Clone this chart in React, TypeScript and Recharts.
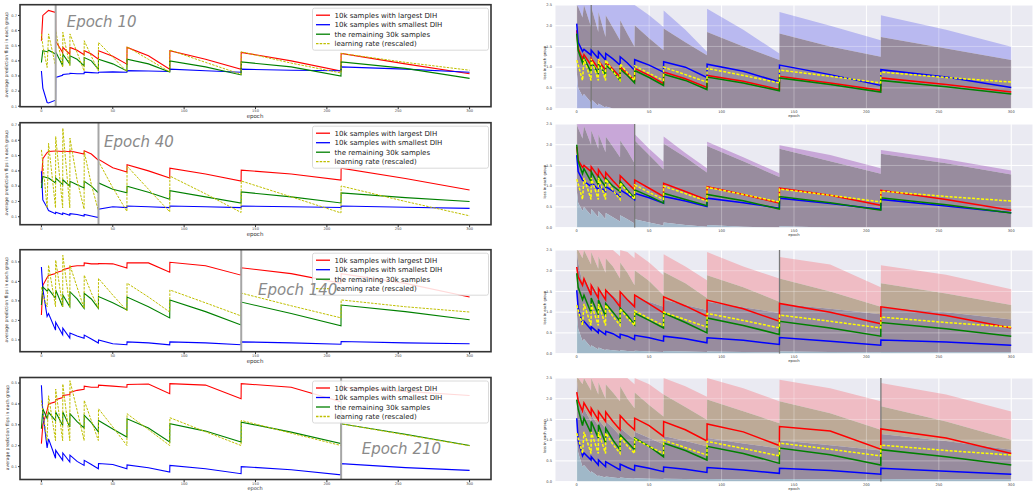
import React from 'react';
import { ComposedChart, Line, Area, XAxis, YAxis, CartesianGrid, ReferenceLine } from 'recharts';

const EPOCHS = [0, 1, 4, 5, 9.9, 10, 14.9, 15, 19.9, 20, 25, 29.9, 30, 35, 39.9, 40, 50, 59.9, 60, 75, 89.9, 90, 115, 139.9, 140, 175, 209.9, 210, 255, 300];
const EPOCH_TICKS = [0, 50, 100, 150, 200, 250, 300];
const FLIP_TICKS_TALL = [0.1, 0.2, 0.3, 0.4, 0.5, 0.6, 0.7];
const FLIP_TICKS_SHORT = [0.1, 0.2, 0.3, 0.4, 0.5];
const LOSS_TICKS = [0, 0.5, 1, 1.5, 2, 2.5];
const MARK_EPOCHS = [10, 40, 140, 210];
const SERIES_NAMES = ['10k samples with largest DIH', '10k samples with smallest DIH', 'the remaining 30k samples', 'learning rate (rescaled)'];

// ---- left column: average prediction flips ----
const L1_LARGEST = [0.533, 0.70, 0.725, 0.733, 0.72, 0.53, 0.455, 0.489, 0.444, 0.489, 0.47, 0.44, 0.467, 0.445, 0.411, 0.467, 0.43, 0.378, 0.489, 0.433, 0.344, 0.467, 0.41, 0.344, 0.456, 0.40, 0.333, 0.449, 0.38, 0.315];
const L1_SMALLEST = [0.333, 0.22, 0.125, 0.122, 0.14, 0.29, 0.305, 0.31, 0.315, 0.318, 0.315, 0.315, 0.325, 0.322, 0.32, 0.325, 0.327, 0.325, 0.335, 0.333, 0.33, 0.345, 0.335, 0.325, 0.345, 0.338, 0.335, 0.36, 0.345, 0.325];
const L1_REST = [0.389, 0.467, 0.46, 0.47, 0.445, 0.46, 0.367, 0.444, 0.378, 0.433, 0.41, 0.367, 0.422, 0.40, 0.344, 0.411, 0.38, 0.333, 0.411, 0.38, 0.327, 0.40, 0.36, 0.307, 0.393, 0.36, 0.30, 0.393, 0.35, 0.284];
const L1_LR = [0.578, 0.50, 0.356, 0.578, 0.367, 0.60, 0.356, 0.589, 0.367, 0.578, 0.455, 0.333, 0.533, 0.43, 0.333, 0.522, 0.425, 0.329, 0.493, 0.41, 0.327, 0.471, 0.39, 0.311, 0.46, 0.385, 0.32, 0.449, 0.39, 0.338];

const L2_LARGEST = [0.321, 0.48, 0.52, 0.527, 0.53, 0.53, 0.527, 0.53, 0.525, 0.53, 0.52, 0.51, 0.531, 0.51, 0.47, 0.475, 0.42, 0.392, 0.44, 0.40, 0.353, 0.418, 0.38, 0.334, 0.405, 0.38, 0.34, 0.418, 0.35, 0.275];
const L2_SMALLEST = [0.397, 0.21, 0.16, 0.14, 0.12, 0.13, 0.115, 0.125, 0.11, 0.12, 0.115, 0.105, 0.115, 0.105, 0.095, 0.15, 0.165, 0.16, 0.17, 0.165, 0.16, 0.17, 0.165, 0.16, 0.17, 0.165, 0.16, 0.17, 0.162, 0.155];
const L2_REST = [0.288, 0.364, 0.355, 0.353, 0.321, 0.353, 0.31, 0.342, 0.30, 0.332, 0.31, 0.288, 0.332, 0.30, 0.256, 0.321, 0.28, 0.256, 0.30, 0.26, 0.215, 0.27, 0.23, 0.19, 0.262, 0.23, 0.19, 0.256, 0.225, 0.20];
const L2_LR = [0.537, 0.45, 0.158, 0.58, 0.158, 0.625, 0.158, 0.679, 0.158, 0.614, 0.34, 0.15, 0.527, 0.31, 0.14, 0.462, 0.29, 0.135, 0.431, 0.28, 0.132, 0.366, 0.25, 0.128, 0.334, 0.23, 0.125, 0.301, 0.20, 0.106];

const L3_LARGEST = [0.228, 0.38, 0.42, 0.43, 0.44, 0.445, 0.455, 0.46, 0.47, 0.475, 0.48, 0.48, 0.495, 0.49, 0.49, 0.492, 0.49, 0.468, 0.495, 0.495, 0.447, 0.498, 0.48, 0.432, 0.47, 0.44, 0.39, 0.44, 0.39, 0.32];
const L3_SMALLEST = [0.474, 0.36, 0.22, 0.235, 0.15, 0.19, 0.126, 0.16, 0.109, 0.135, 0.12, 0.109, 0.125, 0.105, 0.084, 0.10, 0.08, 0.075, 0.09, 0.085, 0.075, 0.09, 0.085, 0.075, 0.09, 0.085, 0.078, 0.092, 0.085, 0.08];
const L3_REST = [0.279, 0.372, 0.35, 0.36, 0.313, 0.356, 0.27, 0.33, 0.27, 0.347, 0.31, 0.262, 0.339, 0.31, 0.262, 0.322, 0.29, 0.254, 0.32, 0.27, 0.213, 0.305, 0.245, 0.177, 0.294, 0.235, 0.172, 0.279, 0.245, 0.203];
const L3_LR = [0.37, 0.33, 0.27, 0.483, 0.27, 0.509, 0.27, 0.534, 0.27, 0.483, 0.37, 0.262, 0.432, 0.34, 0.262, 0.415, 0.33, 0.25, 0.391, 0.32, 0.243, 0.356, 0.29, 0.223, 0.34, 0.275, 0.213, 0.305, 0.27, 0.243];

const L4_LARGEST = [0.21, 0.30, 0.37, 0.40, 0.41, 0.42, 0.43, 0.44, 0.445, 0.455, 0.465, 0.47, 0.485, 0.48, 0.48, 0.49, 0.485, 0.48, 0.493, 0.495, 0.449, 0.497, 0.49, 0.425, 0.497, 0.48, 0.41, 0.48, 0.46, 0.44];
const L4_SMALLEST = [0.489, 0.36, 0.19, 0.233, 0.14, 0.178, 0.13, 0.165, 0.122, 0.155, 0.125, 0.106, 0.13, 0.11, 0.09, 0.115, 0.11, 0.09, 0.108, 0.095, 0.074, 0.106, 0.09, 0.066, 0.10, 0.085, 0.061, 0.114, 0.095, 0.082];
const L4_REST = [0.281, 0.377, 0.33, 0.36, 0.32, 0.361, 0.297, 0.361, 0.289, 0.353, 0.315, 0.285, 0.345, 0.31, 0.266, 0.321, 0.28, 0.242, 0.329, 0.285, 0.218, 0.305, 0.27, 0.218, 0.313, 0.265, 0.21, 0.305, 0.255, 0.201];
const L4_LR = [0.417, 0.36, 0.224, 0.439, 0.224, 0.471, 0.224, 0.495, 0.224, 0.511, 0.37, 0.225, 0.417, 0.32, 0.225, 0.377, 0.29, 0.201, 0.353, 0.277, 0.201, 0.334, 0.267, 0.201, 0.321, 0.26, 0.201, 0.305, 0.252, 0.20];

// ---- right column: loss per group, with spread bands ----
const RIGHT_LR = [1.17, 1.05, 0.68, 1.2, 0.68, 1.2, 0.68, 1.2, 0.68, 1.17, 0.9, 0.68, 1.08, 0.86, 0.68, 1.03, 0.85, 0.68, 1.0, 0.82, 0.64, 0.97, 0.8, 0.62, 0.93, 0.78, 0.62, 0.88, 0.75, 0.64];

const R1_LARGEST = [1.89, 1.45, 1.2, 1.3, 1.05, 1.21, 0.97, 1.15, 0.93, 1.13, 0.95, 0.76, 1.0, 0.85, 0.68, 0.97, 0.8, 0.60, 0.88, 0.72, 0.51, 0.80, 0.66, 0.46, 0.78, 0.62, 0.44, 0.74, 0.58, 0.40];
const R1_SMALLEST = [2.05, 1.6, 1.38, 1.43, 1.29, 1.41, 1.21, 1.37, 1.17, 1.33, 1.2, 1.05, 1.25, 1.1, 0.925, 1.18, 1.05, 0.88, 1.13, 1.0, 0.75, 1.07, 0.9, 0.64, 1.05, 0.82, 0.56, 0.94, 0.76, 0.51];
const R1_REST = [1.81, 1.4, 1.1, 1.22, 0.88, 1.13, 0.85, 1.08, 0.82, 1.05, 0.9, 0.68, 0.95, 0.8, 0.62, 0.92, 0.75, 0.56, 0.83, 0.68, 0.46, 0.76, 0.62, 0.43, 0.74, 0.58, 0.40, 0.68, 0.53, 0.35];
const R1_TOP = [2.5, 2.5, 2.5, 2.5, 2.5, 2.5, 2.5, 2.5, 2.5, 2.5, 2.5, 2.5, 2.5, 2.5, 2.5, 2.5, 2.25, 1.97, 2.37, 1.9, 1.37, 2.41, 1.9, 1.33, 2.33, 2.0, 1.65, 2.25, 1.9, 1.49];
const R1_DARK = [2.5, 2.45, 2.2, 2.5, 1.97, 2.45, 1.85, 2.33, 1.73, 2.25, 1.95, 1.65, 2.13, 1.8, 1.49, 2.01, 1.7, 1.41, 1.93, 1.6, 1.29, 1.85, 1.5, 1.17, 1.81, 1.5, 1.25, 1.73, 1.45, 1.17];
const R1_LOW = [0.9, 0.5, 0.3, 0.35, 0.15, 0.22, 0.06, 0.12, 0.02, 0.05, 0, 0, 0, 0, 0, 0, 0, 0, 0, 0, 0, 0, 0, 0, 0, 0, 0, 0, 0, 0];

const R2_LARGEST = [1.95, 1.62, 1.45, 1.5, 1.35, 1.47, 1.23, 1.4, 1.15, 1.33, 1.13, 0.95, 1.25, 1.08, 0.91, 1.15, 0.95, 0.75, 1.07, 0.87, 0.67, 0.99, 0.8, 0.59, 0.95, 0.78, 0.54, 0.9, 0.68, 0.42];
const R2_SMALLEST = [1.75, 1.35, 1.15, 1.12, 0.99, 1.11, 0.91, 1.03, 0.87, 0.99, 0.88, 0.75, 0.91, 0.8, 0.67, 0.83, 0.72, 0.59, 0.75, 0.64, 0.51, 0.71, 0.6, 0.47, 0.71, 0.58, 0.44, 0.68, 0.52, 0.36];
const R2_REST = [2.0, 1.6, 1.3, 1.42, 1.11, 1.35, 1.03, 1.23, 0.98, 1.19, 1.0, 0.87, 1.11, 0.9, 0.71, 0.91, 0.76, 0.59, 0.83, 0.68, 0.53, 0.8, 0.65, 0.45, 0.75, 0.6, 0.42, 0.72, 0.55, 0.35];
const R2_TOP = [2.5, 2.5, 2.5, 2.5, 2.5, 2.5, 2.5, 2.5, 2.5, 2.5, 2.5, 2.5, 2.5, 2.5, 2.5, 2.25, 1.9, 1.59, 2.2, 1.8, 1.43, 2.07, 1.7, 1.31, 1.99, 1.75, 1.43, 1.87, 1.65, 1.38];
const R2_DARK = [2.5, 2.4, 2.15, 2.45, 2.0, 2.35, 1.9, 2.25, 1.82, 2.2, 1.95, 1.7, 2.1, 1.85, 1.55, 2.1, 1.75, 1.4, 2.03, 1.7, 1.33, 1.97, 1.6, 1.22, 1.9, 1.6, 1.3, 1.78, 1.55, 1.28];
const R2_LOW = [0.9, 0.6, 0.4, 0.5, 0.3, 0.45, 0.25, 0.4, 0.2, 0.35, 0.25, 0.15, 0.3, 0.2, 0.1, 0.2, 0.12, 0.05, 0.12, 0.06, 0.02, 0.06, 0.02, 0, 0.03, 0, 0, 0, 0, 0];

const R3_LARGEST = [2.09, 1.85, 1.65, 1.81, 1.41, 1.65, 1.34, 1.57, 1.3, 1.53, 1.35, 1.13, 1.49, 1.3, 1.13, 1.41, 1.2, 0.98, 1.37, 1.15, 0.9, 1.29, 1.08, 0.78, 1.21, 1.0, 0.72, 1.13, 0.92, 0.62];
const R3_SMALLEST = [1.53, 1.1, 0.72, 0.78, 0.58, 0.65, 0.5, 0.58, 0.46, 0.54, 0.48, 0.38, 0.47, 0.42, 0.34, 0.44, 0.38, 0.3, 0.42, 0.36, 0.26, 0.38, 0.32, 0.22, 0.39, 0.3, 0.2, 0.33, 0.28, 0.2];
const R3_REST = [1.94, 1.6, 1.3, 1.41, 0.98, 1.34, 0.94, 1.29, 0.9, 1.21, 1.0, 0.78, 1.1, 0.92, 0.7, 0.98, 0.8, 0.62, 0.98, 0.75, 0.5, 0.86, 0.68, 0.46, 0.78, 0.62, 0.42, 0.75, 0.6, 0.42];
const R3_TOP = [2.5, 2.5, 2.5, 2.5, 2.5, 2.5, 2.5, 2.5, 2.5, 2.5, 2.5, 2.35, 2.5, 2.45, 2.3, 2.45, 2.2, 1.89, 2.4, 2.1, 1.77, 2.45, 2.1, 1.81, 2.33, 2.15, 1.6, 2.13, 1.9, 1.55];
const R3_MID = [2.5, 2.5, 2.3, 2.5, 2.15, 2.45, 2.05, 2.35, 1.95, 2.3, 2.1, 1.81, 2.2, 1.95, 1.65, 2.01, 1.75, 1.41, 1.97, 1.7, 1.34, 1.89, 1.6, 1.25, 1.81, 1.5, 1.13, 1.7, 1.45, 1.17];
const R3_DARK = [2.5, 2.2, 1.7, 1.85, 1.5, 1.7, 1.42, 1.6, 1.35, 1.55, 1.4, 1.25, 1.45, 1.33, 1.2, 1.38, 1.25, 1.13, 1.3, 1.17, 1.05, 1.25, 1.12, 0.98, 1.2, 1.08, 0.95, 1.12, 1.0, 0.82];
const R3_LOW = [1.0, 0.6, 0.3, 0.35, 0.15, 0.2, 0.1, 0.15, 0.08, 0.1, 0.08, 0.06, 0.08, 0.06, 0.05, 0.07, 0.05, 0.04, 0.06, 0.05, 0.04, 0.05, 0.04, 0.03, 0.05, 0.04, 0.03, 0.04, 0.03, 0.03];

const R4_LARGEST = [2.16, 1.95, 1.7, 1.9, 1.61, 1.77, 1.49, 1.69, 1.45, 1.68, 1.45, 1.25, 1.59, 1.4, 1.25, 1.53, 1.35, 1.09, 1.45, 1.25, 0.98, 1.39, 1.2, 0.87, 1.33, 1.22, 0.78, 1.27, 1.05, 0.68];
const R4_SMALLEST = [1.53, 1.0, 0.62, 0.69, 0.52, 0.6, 0.4, 0.52, 0.36, 0.48, 0.38, 0.28, 0.42, 0.34, 0.27, 0.39, 0.32, 0.24, 0.35, 0.3, 0.22, 0.34, 0.28, 0.2, 0.32, 0.27, 0.18, 0.32, 0.25, 0.18];
const R4_REST = [1.98, 1.75, 1.35, 1.53, 1.17, 1.45, 1.05, 1.37, 0.93, 1.29, 1.0, 0.77, 1.13, 0.95, 0.77, 1.05, 0.85, 0.6, 0.93, 0.75, 0.52, 0.85, 0.68, 0.44, 0.81, 0.65, 0.4, 0.77, 0.6, 0.4];
const R4_TOP = [2.5, 2.5, 2.5, 2.5, 2.5, 2.5, 2.5, 2.5, 2.5, 2.5, 2.5, 2.5, 2.5, 2.5, 2.35, 2.5, 2.35, 2.1, 2.5, 2.3, 2.05, 2.5, 2.25, 1.94, 2.46, 2.25, 1.94, 2.38, 2.1, 1.69];
const R4_MID = [2.5, 2.5, 2.35, 2.5, 2.2, 2.5, 2.1, 2.4, 2.0, 2.35, 2.15, 1.94, 2.3, 2.0, 1.77, 2.15, 1.85, 1.57, 2.1, 1.8, 1.49, 1.98, 1.7, 1.41, 1.94, 1.65, 1.25, 1.82, 1.45, 1.01];
const R4_DARK = [2.5, 2.1, 1.6, 1.75, 1.45, 1.6, 1.35, 1.5, 1.28, 1.45, 1.3, 1.1, 1.3, 1.15, 1.01, 1.2, 1.05, 0.9, 1.1, 0.98, 0.85, 1.05, 0.92, 0.8, 1.0, 0.88, 0.75, 1.15, 0.98, 0.77];
const R4_LOW = [1.0, 0.7, 0.35, 0.4, 0.2, 0.25, 0.12, 0.15, 0.1, 0.12, 0.1, 0.08, 0.1, 0.08, 0.07, 0.08, 0.07, 0.06, 0.07, 0.06, 0.05, 0.06, 0.05, 0.05, 0.06, 0.05, 0.05, 0.06, 0.05, 0.05];

const RED = '#ff0000';
const BLUE = '#0000ff';
const GREEN = '#008000';
const OLIVE = '#bfbf00';
const YELLOW = '#ffff00';

const FLIP_PANELS = [
  { largest: L1_LARGEST, smallest: L1_SMALLEST, rest: L1_REST, lr: L1_LR, domain: [0.095, 0.769], ticks: FLIP_TICKS_TALL },
  { largest: L2_LARGEST, smallest: L2_SMALLEST, rest: L2_REST, lr: L2_LR, domain: [0.046, 0.713], ticks: FLIP_TICKS_TALL },
  { largest: L3_LARGEST, smallest: L3_SMALLEST, rest: L3_REST, lr: L3_LR, domain: [0.038, 0.561], ticks: FLIP_TICKS_SHORT },
  { largest: L4_LARGEST, smallest: L4_SMALLEST, rest: L4_REST, lr: L4_LR, domain: [0.036, 0.524], ticks: FLIP_TICKS_SHORT },
];
// bottom row sits a little higher so its axis titles fit above the frame edge
const FLIP_LAYOUT = [
  { top: 4.7, tagX: 66.7, tagY: 26.5, titleY: 117.7, titleSize: 5.5 },
  { top: 122.7, tagX: 104, tagY: 147, titleY: 235.7, titleSize: 5.5 },
  { top: 249.7, tagX: 258, tagY: 295, titleY: 362.7, titleSize: 5.5 },
  { top: 377.5, tagX: 361.7, tagY: 454, titleY: 489.6, titleSize: 5 },
];

const LOSS_PANELS = [
  { largest: R1_LARGEST, smallest: R1_SMALLEST, rest: R1_REST, top: R1_TOP, mid: null, dark: R1_DARK, low: R1_LOW, topColor: '#b9b9f0', lowColor: '#aab2df' },
  { largest: R2_LARGEST, smallest: R2_SMALLEST, rest: R2_REST, top: R2_TOP, mid: null, dark: R2_DARK, low: R2_LOW, topColor: '#c8a7d8', lowColor: '#a3b8cb' },
  { largest: R3_LARGEST, smallest: R3_SMALLEST, rest: R3_REST, top: R3_TOP, mid: R3_MID, dark: R3_DARK, low: R3_LOW, topColor: '#efbcc4', lowColor: '#a0b8c8' },
  { largest: R4_LARGEST, smallest: R4_SMALLEST, rest: R4_REST, top: R4_TOP, mid: R4_MID, dark: R4_DARK, low: R4_LOW, topColor: '#efbcc4', lowColor: '#a0b8c8' },
];
const LOSS_LAYOUT = [
  { top: 4.7, titleY: 117.3 },
  { top: 123.7, titleY: 236.3 },
  { top: 249.7, titleY: 362.3 },
  { top: 378.3, titleY: 489.9 },
];

// room above each plot so the topmost tick label is not clipped
const PAD = 4;

const fmt1 = (v: number) => v.toFixed(1);
const tickStyle = { fontSize: 3.6, fill: '#444' };

function FlipPanel({ i }: { i: number }) {
  const p = FLIP_PANELS[i];
  const rows = EPOCHS.map((epoch, k) => ({
    epoch,
    largest: p.largest[k],
    smallest: p.smallest[k],
    rest: p.rest[k],
    lr: p.lr[k],
  }));
  return (
    <div style={{ position: 'absolute', left: 0, top: FLIP_LAYOUT[i].top - PAD }}>
      <ComposedChart width={492} height={116 + PAD} data={rows} margin={{ top: PAD, right: 1, bottom: 0, left: 0 }}>
        <XAxis dataKey="epoch" type="number" domain={[-15, 315]} ticks={EPOCH_TICKS} allowDataOverflow interval={0}
          height={14} tickSize={2} tickMargin={0.5} axisLine={false} tickLine={{ stroke: '#333' }} tick={tickStyle} />
        <YAxis type="number" domain={p.domain} ticks={p.ticks} allowDataOverflow interval={0} width={20}
          tickSize={2} tickMargin={1} axisLine={false} tickLine={{ stroke: '#333' }} tick={tickStyle} tickFormatter={fmt1} />
        <Line dataKey="largest" stroke={RED} strokeWidth={1.1} dot={false} activeDot={false} isAnimationActive={false} />
        <Line dataKey="smallest" stroke={BLUE} strokeWidth={1.1} dot={false} activeDot={false} isAnimationActive={false} />
        <Line dataKey="rest" stroke={GREEN} strokeWidth={1.1} dot={false} activeDot={false} isAnimationActive={false} />
        <Line dataKey="lr" stroke={OLIVE} strokeWidth={1} strokeDasharray="2.5 1.2" dot={false} activeDot={false} isAnimationActive={false} />
        <ReferenceLine x={MARK_EPOCHS[i]} stroke="#a6a6a6" strokeWidth={2} />
      </ComposedChart>
    </div>
  );
}

function LossPanel({ i }: { i: number }) {
  const p = LOSS_PANELS[i];
  const rows = EPOCHS.map((epoch, k) => ({
    epoch,
    largest: p.largest[k],
    smallest: p.smallest[k],
    rest: p.rest[k],
    lr: RIGHT_LR[k],
    low: [0, p.low[k]],
    dark: [p.low[k], p.dark[k]],
    mid: p.mid ? [p.dark[k], p.mid[k]] : null,
    top: [p.mid ? p.mid[k] : p.dark[k], p.top[k]],
  }));
  return (
    <div style={{ position: 'absolute', left: 520, top: LOSS_LAYOUT[i].top - PAD }}>
      <ComposedChart width={513} height={115.6 + PAD} data={rows} margin={{ top: PAD, right: 0, bottom: 0, left: 0 }}>
        <CartesianGrid fill="#eaeaf2" stroke="#ffffff" strokeWidth={1} />
        <XAxis dataKey="epoch" type="number" domain={[-15, 315]} ticks={EPOCH_TICKS} allowDataOverflow interval={0}
          height={12} tickSize={1.5} tickMargin={0} axisLine={false} tickLine={false} tick={tickStyle} />
        <YAxis type="number" domain={[0, 2.5]} ticks={LOSS_TICKS} allowDataOverflow interval={0} width={35}
          tickSize={3} tickMargin={0} axisLine={false} tickLine={false} tick={tickStyle} tickFormatter={fmt1} />
        <Area dataKey="top" stroke="none" fill={p.topColor} fillOpacity={1} isAnimationActive={false} />
        {p.mid && <Area dataKey="mid" stroke="none" fill="#bdaa97" fillOpacity={1} isAnimationActive={false} />}
        <Area dataKey="dark" stroke="none" fill="#988c9e" fillOpacity={1} isAnimationActive={false} />
        <Area dataKey="low" stroke="none" fill={p.lowColor} fillOpacity={1} isAnimationActive={false} />
        {EPOCH_TICKS.map((t) => <ReferenceLine key={'gx' + t} x={t} stroke="#ffffff" strokeOpacity={0.3} />)}
        {LOSS_TICKS.map((t) => <ReferenceLine key={'gy' + t} y={t} stroke="#ffffff" strokeOpacity={0.3} />)}
        <ReferenceLine x={MARK_EPOCHS[i]} stroke="#7a7a7a" strokeWidth={1.3} />
        <Line dataKey="largest" stroke={RED} strokeWidth={1.5} dot={false} activeDot={false} isAnimationActive={false} />
        <Line dataKey="smallest" stroke={BLUE} strokeWidth={1.5} dot={false} activeDot={false} isAnimationActive={false} />
        <Line dataKey="rest" stroke={GREEN} strokeWidth={1.5} dot={false} activeDot={false} isAnimationActive={false} />
        <Line dataKey="lr" stroke={YELLOW} strokeWidth={1.5} strokeDasharray="3 1.5" dot={false} activeDot={false} isAnimationActive={false} />
      </ComposedChart>
    </div>
  );
}

const LEGEND_COLORS = [RED, BLUE, GREEN, OLIVE];

function Annotations() {
  return (
    <svg width={1033} height={491} style={{ position: 'absolute', left: 0, top: 0, pointerEvents: 'none' }}
      fontFamily='"DejaVu Sans", sans-serif'>
      {FLIP_LAYOUT.map((lay, i) => {
        const T = lay.top;
        return (
          <g key={'f' + i}>
            <rect x={20} y={T} width={471} height={102} fill="none" stroke="#333" strokeWidth={1.6} />
            <rect x={312.5} y={T + 3.5} width={176} height={42} rx={2} fill="#ffffff" fillOpacity={0.85} stroke="#d0d0d0" strokeWidth={0.8} />
            {SERIES_NAMES.map((name, k) => {
              const cy = T + 10.5 + 9.5 * k;
              return (
                <g key={k}>
                  <line x1={316} x2={330} y1={cy} y2={cy} stroke={LEGEND_COLORS[k]} strokeWidth={1.3}
                    strokeDasharray={k === 3 ? '2.5 1.2' : undefined} />
                  <text x={334.5} y={cy + 2.5} fontSize={7} fill="#222">{name}</text>
                </g>
              );
            })}
            <text x={lay.tagX} y={lay.tagY} fontSize={15} fontStyle="italic" fill="#8a8a8a">{'Epoch ' + MARK_EPOCHS[i]}</text>
            <text x={255} y={lay.titleY} fontSize={lay.titleSize} textAnchor="middle" fill="#333">epoch</text>
            <text x={8.5} y={T + 50} fontSize={4.5} textAnchor="middle" fill="#333"
              transform={`rotate(-90 8.5 ${T + 50})`}>average prediction flips in each group</text>
          </g>
        );
      })}
      {LOSS_LAYOUT.map((lay, i) => (
        <g key={'l' + i}>
          <text x={794} y={lay.titleY} fontSize={3.8} textAnchor="middle" fill="#333">epoch</text>
          <text x={546.5} y={lay.top + 58} fontSize={3.7} textAnchor="middle" fill="#222"
            transform={`rotate(-90 546.5 ${lay.top + 58})`}>loss in each group</text>
        </g>
      ))}
    </svg>
  );
}

export default function App() {
  return (
    <div style={{ position: 'absolute', left: 0, top: 0, width: 1033, height: 491, background: '#ffffff', overflow: 'hidden', fontFamily: '"DejaVu Sans", sans-serif' }}>
      {FLIP_PANELS.map((_, i) => <FlipPanel key={'fp' + i} i={i} />)}
      {LOSS_PANELS.map((_, i) => <LossPanel key={'lp' + i} i={i} />)}
      <Annotations />
    </div>
  );
}
